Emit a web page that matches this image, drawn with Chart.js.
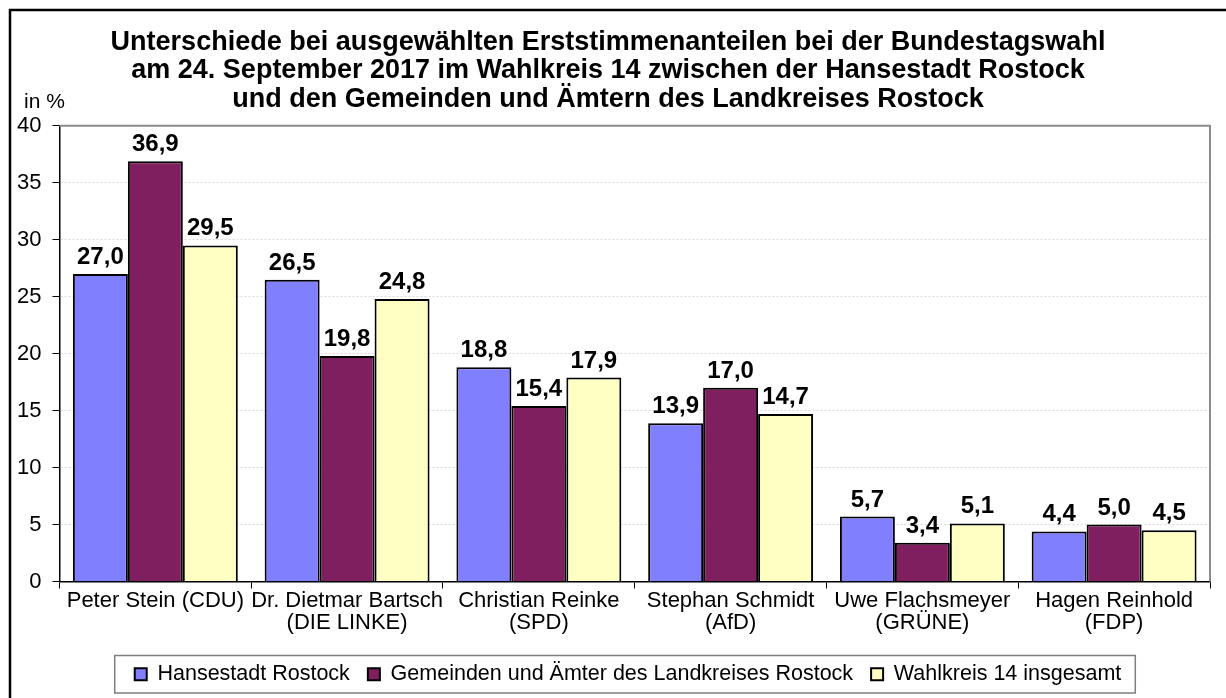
<!DOCTYPE html>
<html>
<head>
<meta charset="utf-8">
<script src="https://cdn.jsdelivr.net/npm/chart.js@4.4.1/dist/chart.umd.min.js"></script>
<style>
  html, body { margin: 0; padding: 0; background: #fff; }
  #wrap { width: 1226px; height: 698px; }
</style>
</head>
<body>
<div id="wrap"><canvas id="chart" width="1226" height="698"></canvas></div>
<script>
// Daten
const candidates = [
    ['Peter Stein (CDU)'],
    ['Dr. Dietmar Bartsch', '(DIE LINKE)'],
    ['Christian Reinke', '(SPD)'],
    ['Stephan Schmidt', '(AfD)'],
    ['Uwe Flachsmeyer', '(GRÜNE)'],
    ['Hagen Reinhold', '(FDP)']
];
const seriesNames = [
    'Hansestadt Rostock',
    'Gemeinden und Ämter des Landkreises Rostock',
    'Wahlkreis 14 insgesamt'
];
const rostockCity = [27.0, 26.5, 18.8, 13.9, 5.7, 4.4];
const landkreis = [36.9, 19.8, 15.4, 17.0, 3.4, 5.0];
const wahlkreis = [29.5, 24.8, 17.9, 14.7, 5.1, 4.5];
const yTicks = [0, 5, 10, 15, 20, 25, 30, 35, 40];
const titleLines = [
    'Unterschiede bei ausgewählten Erststimmenanteilen bei der Bundestagswahl',
    'am 24. September 2017 im Wahlkreis 14 zwischen der Hansestadt Rostock',
    'und den Gemeinden und Ämtern des Landkreises Rostock'
];
const yUnit = 'in %';

const FONT = 'Arial, "Liberation Sans", sans-serif';
Chart.defaults.font.family = FONT;
Chart.defaults.color = '#000';

// Werte über den Balken
const valueLabels = {
    id: 'valueLabels',
    afterDatasetsDraw(chart) {
        const ctx = chart.ctx;
        ctx.save();
        ctx.font = 'bold 24px ' + FONT;
        ctx.fillStyle = '#000';
        ctx.textAlign = 'center';
        ctx.textBaseline = 'alphabetic';
        chart.data.datasets.forEach((ds, i) => {
            chart.getDatasetMeta(i).data.forEach((bar, j) => {
                const txt = ds.data[j].toFixed(1).replace('.', ',');
                ctx.fillText(txt, bar.x, bar.y - 10);
            });
        });
        ctx.restore();
    }
};

// Rahmen, Achsenbeschriftung, Legendenrahmen
const frame = {
    id: 'frame',
    afterLayout(chart) {
        // Legende etwas nach rechts/unten wie im Original
        chart.legend.left += 20;
        chart.legend.right += 20;
        chart.legend.top += 4;
        chart.legend.bottom += 4;
    },
    afterDraw(chart) {
        const ctx = chart.ctx;
        const area = chart.chartArea;
        ctx.save();
        // Plotbereich oben und rechts
        ctx.strokeStyle = '#8c8c8c';
        ctx.lineWidth = 2;
        ctx.beginPath();
        ctx.moveTo(area.left, area.top);
        ctx.lineTo(area.right, area.top);
        ctx.lineTo(area.right, area.bottom);
        ctx.stroke();
        // in %
        ctx.font = '21px ' + FONT;
        ctx.fillStyle = '#000';
        ctx.textAlign = 'left';
        ctx.textBaseline = 'middle';
        ctx.fillText(yUnit, 24, 102);
        // Legendenrahmen
        const boxes = chart.legend.legendHitBoxes;
        if (boxes && boxes.length) {
            const l = Math.min(...boxes.map(b => b.left)) - 20;
            const r = Math.max(...boxes.map(b => b.left + b.width)) + 14;
            const t = Math.min(...boxes.map(b => b.top)) - 8;
            const b = Math.max(...boxes.map(b => b.top + b.height)) + 8;
            ctx.strokeStyle = '#7f7f7f';
            ctx.lineWidth = 1.5;
            ctx.strokeRect(l, t, r - l, b - t);
        }
        // äußerer Rahmen
        ctx.strokeStyle = '#000';
        ctx.lineWidth = 2.5;
        ctx.strokeRect(10, 10, 1400, 900);
        ctx.restore();
    }
};

const ctx = document.getElementById('chart').getContext('2d');
new Chart(ctx, {
    type: 'bar',
    data: {
        labels: candidates,
        datasets: [
            { label: seriesNames[0], data: rostockCity, backgroundColor: '#8080ff' },
            { label: seriesNames[1], data: landkreis, backgroundColor: '#801f5f' },
            { label: seriesNames[2], data: wahlkreis, backgroundColor: '#ffffc4' }
        ].map(d => Object.assign(d, {
            borderColor: '#000',
            borderWidth: 2,
            categoryPercentage: 0.86,
            barPercentage: 1.0
        }))
    },
    options: {
        responsive: false,
        animation: false,
        devicePixelRatio: 1,
        layout: { padding: { left: 6, right: 16, top: 28, bottom: 7 } },
        plugins: {
            title: {
                display: true,
                text: titleLines,
                font: { size: 27, weight: 'bold', family: FONT, lineHeight: 1.06 },
                color: '#000',
                padding: { top: 0, bottom: 12 }
            },
            legend: {
                position: 'bottom',
                labels: {
                    font: { size: 21.5, family: FONT },
                    color: '#000',
                    boxWidth: 12,
                    boxHeight: 12,
                    padding: 18
                }
            },
            tooltip: { enabled: false }
        },
        scales: {
            x: {
                afterFit(scale) {
                    scale.height += 7;
                },
                grid: {
                    display: true,
                    drawOnChartArea: false,
                    drawTicks: true,
                    tickLength: 7,
                    tickColor: '#000',
                    offset: true
                },
                border: { color: '#000', width: 1.5 },
                ticks: {
                    font: { size: 22, family: FONT, lineHeight: 1.0 },
                    color: '#000',
                    padding: 1,
                    maxRotation: 0,
                    autoSkip: false
                }
            },
            y: {
                min: 0,
                max: 40,
                afterBuildTicks(axis) {
                    axis.ticks = yTicks.map(v => ({ value: v }));
                },
                grid: {
                    color: '#d9d9d9',
                    tickColor: '#000',
                    tickLength: 7,
                    tickBorderDash: []
                },
                border: { color: '#000', width: 1.5, dash: [2, 2] },
                ticks: {
                    font: { size: 22, family: FONT },
                    color: '#000',
                    padding: 11
                }
            }
        }
    },
    plugins: [valueLabels, frame]
});
</script>
</body>
</html>
